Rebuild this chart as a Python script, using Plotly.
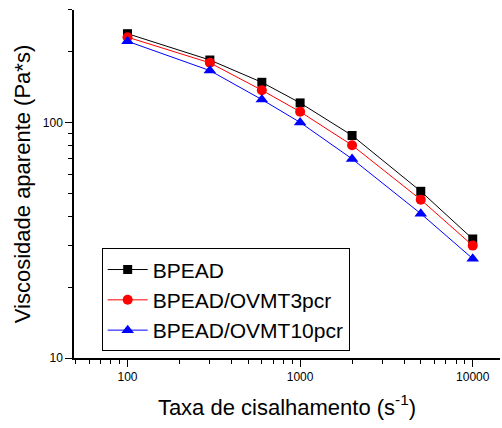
import plotly.graph_objects as go

shear_rate = [100, 300, 600, 1000, 2000, 5000, 10000]
bpead = [238, 184, 148, 121, 88, 51, 32]
bpead_3pcr = [230, 179, 137, 111, 80, 47, 30]
bpead_10pcr = [221, 166, 125, 100, 70, 41, 26.4]

series = [
    ("BPEAD", bpead, "black", "square", 9),
    ("BPEAD/OVMT3pcr", bpead_3pcr, "red", "circle", 10),
    ("BPEAD/OVMT10pcr", bpead_10pcr, "blue", "triangle-up", 11),
]

fig = go.Figure()
for name, vals, color, sym, size in series:
    fig.add_trace(go.Scatter(
        x=shear_rate, y=vals, name=name, mode="lines+markers",
        line=dict(color=color, width=1),
        marker=dict(color=color, symbol=sym, size=size),
    ))

font = "Liberation Sans"
fig.update_layout(
    width=502, height=428,
    margin=dict(l=74, r=2, t=10, b=70),
    paper_bgcolor="white", plot_bgcolor="white",
    font=dict(family=font, color="black"),
    showlegend=True,
    legend=dict(
        x=0.065, y=0.315, xanchor="left", yanchor="top",
        bordercolor="black", borderwidth=1, bgcolor="white",
        font=dict(size=21, family=font), tracegroupgap=0,
        itemwidth=40,
    ),
    xaxis=dict(
        type="log", range=[1.69, 4.158],
        showgrid=False, zeroline=False,
        showline=True, linecolor="black", linewidth=1.5,
        ticks="outside", ticklen=7, tickcolor="black",
        tickvals=[100, 1000, 10000], ticktext=["100", "1000", "10000"],
        tickfont=dict(size=12),
        minor=dict(ticks="outside", ticklen=4, tickcolor="black", dtick="D1", showgrid=False),
        title=dict(text="Taxa de cisalhamento (s<sup>-1</sup>)", font=dict(size=22), standoff=16),
    ),
    yaxis=dict(
        type="log", range=[1, 2.4771],
        showgrid=False, zeroline=False,
        showline=True, linecolor="black", linewidth=1.5,
        ticks="outside", ticklen=7, tickcolor="black",
        tickvals=[10, 100], ticktext=["10", "100"],
        tickfont=dict(size=12),
        minor=dict(ticks="outside", ticklen=4, tickcolor="black", dtick="D1", showgrid=False),
        title=dict(text="Viscosidade aparente (Pa*s)", font=dict(size=22), standoff=6),
    ),
)

fig.write_html("out.html")
